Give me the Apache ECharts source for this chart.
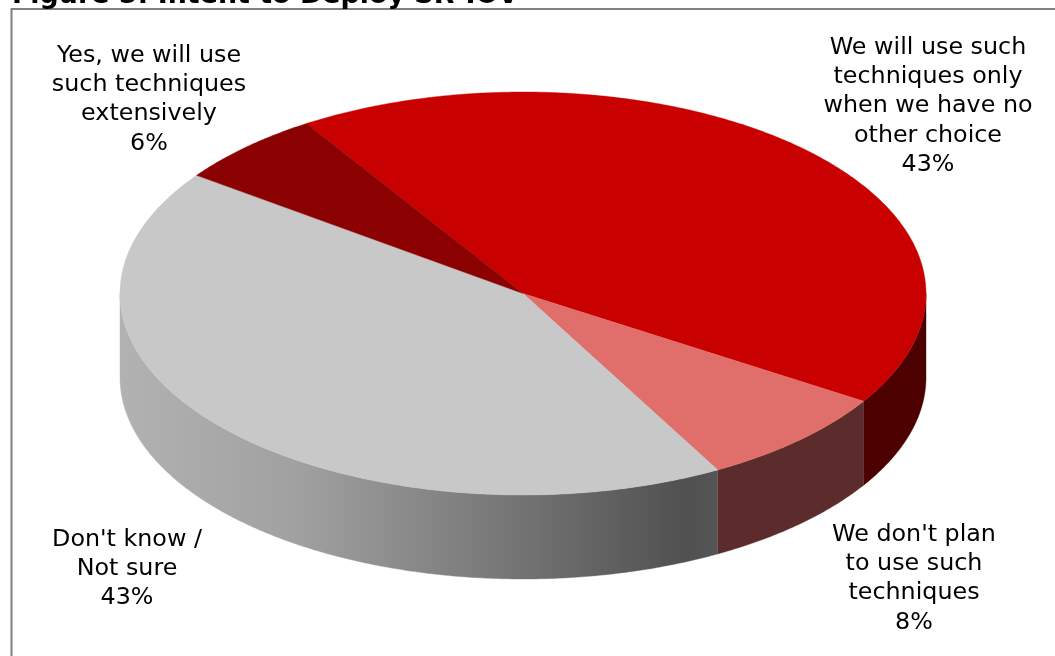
<!DOCTYPE html>
<html>
<head>
<meta charset="utf-8">
<title>Intent to Deploy SR-IOV</title>
<style>html,body{margin:0;padding:0;background:#fff;overflow:hidden}#chart{width:1055px;height:656px}</style>
<script src="https://cdn.jsdelivr.net/npm/echarts@6/dist/echarts.min.js"></script>
</head>
<body>
<div id="chart"></div>
<script>
// Survey shares, in drawing order clockwise from the upper-left edge of the large red slice.
const categories = [
  'We will use such\ntechniques only\nwhen we have no\nother choice',
  "We don't plan\nto use such\ntechniques",
  "Don't know /\nNot sure",
  'Yes, we will use\nsuch techniques\nextensively'
];
const values = [43, 8, 43, 6];
const topColors = ['#c80000', '#e06e6b', '#c8c8c8', '#8b0000'];
const wallColors = ['#4d0000', '#5c2c2c', null, '#460000'];
const titleText = 'Figure 5: Intent to Deploy SR-IOV';

// Disc geometry: centre, radii of the tilted ellipse, rim depth, first slice angle.
const disc = { cx: 523, cy: 293.5, rx: 403, ry: 201.5, depth: 84, startDeg: 237.5 };
// Label anchors: horizontal centre and first-line centre of each text block.
const labelAnchors = [[928, 47.5], [914, 534.5], [127, 539.5], [149, 55.5]];
const labelFont = { size: 23.8, lineHeight: 29.3 };

const total = values.reduce((a, b) => a + b, 0);
const rad = d => d * Math.PI / 180;
const ellipsePoint = (deg, dy) => [
  disc.cx + disc.rx * Math.cos(rad(deg)),
  disc.cy + disc.ry * Math.sin(rad(deg)) + (dy || 0)
];
function arcPoints(a0, a1, dy) {
  const n = Math.max(2, Math.ceil(Math.abs(a1 - a0) * 2));
  const pts = [];
  for (let i = 0; i <= n; i++) pts.push(ellipsePoint(a0 + (a1 - a0) * i / n, dy));
  return pts;
}
// Grey rim shading runs from light at the far left to dark near the pink slice.
function greyRim() {
  return new echarts.graphic.LinearGradient(
    disc.cx - disc.rx, 0, disc.cx + 0.5 * disc.rx, 0,
    [
      { offset: 0, color: '#b2b2b2' },
      { offset: 0.3, color: '#a0a0a0' },
      { offset: 0.65, color: '#757575' },
      { offset: 0.93, color: '#515151' },
      { offset: 1, color: '#555555' }
    ],
    true
  );
}

function renderSlice(params, api) {
  const i = params.dataIndex;
  const before = values.slice(0, i).reduce((a, b) => a + b, 0);
  const a0 = disc.startDeg + before / total * 360;
  const a1 = a0 + api.value(0) / total * 360;
  const children = [];

  // Only the front half of the rim (0 to 180 degrees, modulo a turn) is visible.
  for (const [lo, hi] of [[0, 180], [360, 540]]) {
    const w0 = Math.max(a0, lo), w1 = Math.min(a1, hi);
    if (w1 > w0) {
      const wallFill = wallColors[i] || greyRim();
      children.push({
        type: 'polygon',
        shape: { points: arcPoints(w0, w1, 0).concat(arcPoints(w1, w0, disc.depth)) },
        style: { fill: wallFill, stroke: wallFill, lineWidth: 0.4 },
        z2: 1
      });
    }
  }

  children.push({
    type: 'polygon',
    shape: { points: [[disc.cx, disc.cy]].concat(arcPoints(a0, a1, 0)) },
    style: { fill: topColors[i], stroke: topColors[i], lineWidth: 0.4 },
    z2: 2
  });

  children.push({
    type: 'text',
    z2: 3,
    style: {
      text: categories[i] + '\n' + api.value(0) + '%',
      x: labelAnchors[i][0],
      y: labelAnchors[i][1] - labelFont.lineHeight / 2,
      align: 'center',
      verticalAlign: 'top',
      fontFamily: 'DejaVu Sans',
      fontSize: labelFont.size,
      lineHeight: labelFont.lineHeight,
      fill: '#000000'
    }
  });

  return { type: 'group', children };
}

const chart = echarts.init(document.getElementById('chart'), null, { renderer: 'canvas' });
chart.setOption({
  animation: false,
  backgroundColor: '#ffffff',
  title: {
    text: titleText,
    left: 12,
    top: -17.5,
    padding: 0,
    textStyle: { fontFamily: 'DejaVu Sans', fontWeight: 'bold', fontSize: 26.9, color: '#000000' }
  },
  graphic: [{
    type: 'rect',
    silent: true,
    z: -1,
    shape: { x: 11.5, y: 9, width: 1200, height: 800 },
    style: { fill: 'none', stroke: '#808080', lineWidth: 2 }
  }],
  series: [{
    type: 'custom',
    coordinateSystem: 'none',
    renderItem: renderSlice,
    data: values.map((v, i) => ({ value: v, name: categories[i] }))
  }]
});
</script>
</body>
</html>
